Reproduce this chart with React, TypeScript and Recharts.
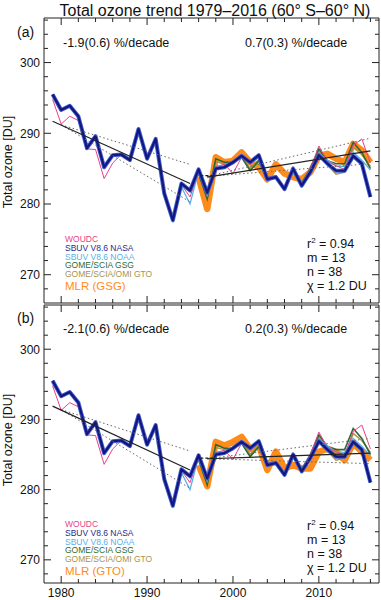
import React from "react";
import { Line, LineChart, XAxis, YAxis } from "recharts";

const FONT = '"Liberation Sans", Arial, Helvetica, sans-serif';

// years of the annual means
const years = [
  1979, 1980, 1981, 1982, 1983, 1984, 1985, 1986, 1987, 1988, 1989, 1990, 1991, 1992, 1993, 1994, 1995, 1996, 1997,
  1998, 1999, 2000, 2001, 2002, 2003, 2004, 2005, 2006, 2007, 2008, 2009, 2010, 2011, 2012, 2013, 2014, 2015, 2016,
];

const woudc = [
  294.8, 291.3, 292.4, 291.8, 287.8, 287.7, 283.6, 285.8, 287.0, 286.4, 290.4, 286.5, 289.0, 281.2, 278.0, 282.7, 281.0,
  284.6, 281.3, 285.3, 285.6, 284.3, 286.6, 285.6, 286.6, 283.8, 284.0, 282.3, 285.2, 282.8, 285.0, 288.2, 286.0, 285.4,
  284.9, 288.3, 289.2, 285.8,
];
const sbuvNasa = [
  295.5, 293.3, 293.9, 292.4, 287.9, 289.6, 285.2, 286.9, 287.0, 286.2, 290.6, 286.4, 289.2, 281.5, 277.7, 282.9, 281.9,
  284.9, 281.6, 285.0, 285.2, 285.9, 286.8, 285.9, 286.9, 283.5, 283.8, 282.1, 285.0, 282.6, 284.5, 286.9, 285.7, 284.7,
  284.7, 286.8, 285.7, 281.0,
];
const sbuvNoaa = [
  295.3, 293.2, 293.8, 292.3, 287.8, 289.5, 285.1, 286.8, 287.0, 286.1, 290.5, 286.4, 289.1, 281.4, 277.6, 282.4, 280.0,
  284.7, 281.2, 285.1, 285.3, 285.7, 286.7, 285.8, 286.8, 283.6, 283.9, 282.2, 285.1, 282.7, 284.7, 287.2, 286.2, 285.4,
  285.3, 287.3, 286.2, 284.8,
];
const gomeGsg = [
  null, null, null, null, null, null, null, null, null, null, null, null, null, null, null, null, null,
  284.3, 280.7, 286.4, 285.9, 285.9, 286.6, 284.7, 286.1, 283.5, 284.0, 282.1, 285.1, 282.9, 285.0, 287.8, 286.1, 285.7,
  285.7, 288.7, 287.3, 285.0,
];
const gomeGto = [
  null, null, null, null, null, null, null, null, null, null, null, null, null, null, null, null, null,
  284.2, 281.0, 286.0, 285.7, 285.8, 286.8, 285.0, 286.3, 283.3, 283.9, 282.0, 285.0, 282.8, 284.8, 287.5, 285.5, 284.2,
  284.5, 288.0, 287.0, 285.3,
];
const mlrGsg = [
  null, null, null, null, null, null, null, null, null, null, null, null, null, null, null, null, null,
  283.8, 279.3, 286.6, 285.9, 286.1, 287.3, 285.9, 285.2, 283.5, 285.6, 284.3, 283.8, 283.5, 284.5, 286.8, 287.1, 286.4,
  285.9, 288.5, 287.6, 285.9,
];
const mlrGto = [
  null, null, null, null, null, null, null, null, null, null, null, null, null, null, null, null, null,
  283.5, 280.5, 286.8, 286.3, 286.8, 287.5, 285.8, 286.3, 282.8, 285.4, 283.0, 283.5, 283.0, 283.0, 285.4, 285.8, 285.4,
  284.2, 286.6, 285.4, 284.2,
];

// fitted trends [year, DU]
const trendA1 = [[1979, 291.7], [1995, 282.9]];
const flatA = [[1996.2, 284.0], [1997.8, 284.0]];
const trendA2 = [[1997, 283.8], [2016, 287.5]];
const upperA1 = [[1980, 291.2], [1995, 285.6]];
const lowerA1 = [[1980, 291.2], [1995, 280.3]];
const upperA2 = [[1997, 283.9], [2016, 289.3]];
const lowerA2 = [[1997, 283.9], [2016, 285.7]];

const trendB1 = [[1979, 291.9], [1995, 282.8]];
const flatB = [[1996.2, 284.5], [1997.8, 284.5]];
const trendB2 = [[1997, 284.4], [2016, 285.2]];
const upperB1 = [[1980, 291.4], [1995, 285.5]];
const lowerB1 = [[1980, 291.4], [1995, 280.2]];
const upperB2 = [[1997, 284.4], [2016, 287.3]];
const lowerB2 = [[1997, 284.4], [2016, 283.7]];

const yearTicks = [1980, 1982, 1984, 1986, 1988, 1990, 1992, 1994, 1996, 1998, 2000, 2002, 2004, 2006, 2008, 2010, 2012, 2014, 2016];
const duTicks = [268, 270, 272, 274, 276, 278, 280, 282, 284, 286, 288, 290, 292, 294, 296, 298, 300, 302, 304, 306];

const legendItems = [
  { label: "WOUDC", color: "#e6428a" },
  { label: "SBUV V8.6 NASA", color: "#2a2a8e" },
  { label: "SBUV V8.6 NOAA", color: "#5ab0e6" },
  { label: "GOME/SCIA GSG", color: "#2f6a32" },
  { label: "GOME/SCIA/OMI GTO", color: "#a8944a" },
];

const seg = (pairs: number[][]) => pairs.map(([year, v]) => ({ year, v }));

function renderTick(props: any, side: string, labels: boolean) {
  const { x, y, payload } = props;
  const v = payload.value;
  const major = Math.abs(v % 10) < 1e-6;
  const len = major ? 7 : 4;
  let x2 = x;
  let y2 = y;
  if (side === "bottom") y2 = y - len;
  if (side === "top") y2 = y + len;
  if (side === "left") x2 = x + len;
  if (side === "right") x2 = x - len;
  return (
    <g>
      <line x1={x} y1={y} x2={x2} y2={y2} stroke="#222" strokeWidth={1} />
      {labels && major && side === "bottom" && (
        <text x={x} y={y + 14} textAnchor="middle" fontSize={12} fontFamily={FONT} fill="#111">
          {v}
        </text>
      )}
      {labels && major && side === "left" && (
        <text x={x - 4} y={y + 4.3} textAnchor="end" fontSize={12} fontFamily={FONT} fill="#111">
          {v}
        </text>
      )}
    </g>
  );
}

function Panel({ height, mTop, mBottom, yDomain, mlr, solid, dotted, yearLabels }: any) {
  const rows = years.map((year, i) => ({
    year,
    woudc: woudc[i],
    nasa: sbuvNasa[i],
    noaa: sbuvNoaa[i],
    gsg: gomeGsg[i],
    gto: gomeGto[i],
    mlr: mlr[i],
  }));
  return (
    <div style={{ position: "absolute", left: 0, top: 0, width: 381, height }}>
      <LineChart width={381} height={height} data={rows} margin={{ top: mTop - 1, right: 1, bottom: mBottom - 1, left: 43 }}>
        <XAxis dataKey="year" type="number" domain={[1978, 2017]} ticks={yearTicks} interval={0} height={1}
          tickSize={0} tickMargin={0} tickLine={false} axisLine={{ stroke: "#222" }} allowDataOverflow
          tick={(p: any) => renderTick(p, "bottom", yearLabels)} />
        <XAxis xAxisId="top" orientation="top" dataKey="year" type="number" domain={[1978, 2017]} ticks={yearTicks}
          interval={0} height={1} tickSize={0} tickMargin={0} tickLine={false} axisLine={{ stroke: "#222" }}
          allowDataOverflow tick={(p: any) => renderTick(p, "top", false)} />
        <YAxis type="number" domain={yDomain} ticks={duTicks} interval={0} width={1} tickSize={0} tickMargin={0}
          tickLine={false} axisLine={{ stroke: "#222" }} allowDataOverflow
          tick={(p: any) => renderTick(p, "left", true)} />
        <YAxis yAxisId="right" orientation="right" type="number" domain={yDomain} ticks={duTicks} interval={0}
          width={1} tickSize={0} tickMargin={0} tickLine={false} axisLine={{ stroke: "#222" }} allowDataOverflow
          tick={(p: any) => renderTick(p, "right", false)} />

        <Line dataKey="mlr" stroke="#ff8c1a" strokeWidth={6.5} dot={false} activeDot={false} isAnimationActive={false} strokeLinejoin="round" />
        <Line dataKey="gto" stroke="#a8944a" strokeWidth={1.5} dot={false} activeDot={false} isAnimationActive={false} />
        <Line dataKey="gsg" stroke="#2f6a32" strokeWidth={1.6} dot={false} activeDot={false} isAnimationActive={false} />
        <Line dataKey="noaa" stroke="#5ab0e6" strokeWidth={1.3} dot={false} activeDot={false} isAnimationActive={false} />
        <Line dataKey="woudc" stroke="#e6428a" strokeWidth={1} dot={false} activeDot={false} isAnimationActive={false} />
        <Line dataKey="nasa" stroke="#3d5fd6" strokeWidth={4} dot={false} activeDot={false} isAnimationActive={false} strokeLinejoin="round" />
        <Line dataKey="nasa" stroke="#15157a" strokeWidth={2.2} dot={false} activeDot={false} isAnimationActive={false} strokeLinejoin="round" />

        {dotted.map((d: number[][], i: number) => (
          <Line key={"d" + i} data={seg(d)} dataKey="v" stroke="#666" strokeWidth={1} strokeDasharray="1.5 2.5"
            dot={false} activeDot={false} isAnimationActive={false} />
        ))}
        {solid.map((d: number[][], i: number) => (
          <Line key={"s" + i} data={seg(d)} dataKey="v" stroke="#222" strokeWidth={1.2}
            strokeDasharray={i === 1 ? "3 2" : undefined}
            dot={false} activeDot={false} isAnimationActive={false} />
        ))}
      </LineChart>
    </div>
  );
}

function Notes({ y0, label, left, right, mlrLabel, legendY, statsY, axisY }: any) {
  const t = { fontFamily: FONT, fill: "#111" };
  return (
    <g>
      <text x={17} y={y0 + 19} fontSize={14} {...t}>{label}</text>
      <text x={63} y={y0 + 28.5} fontSize={12.5} {...t}>{left}</text>
      <text x={245} y={y0 + 28.5} fontSize={12.5} {...t}>{right}</text>
      {legendItems.map((it, i) => (
        <text key={it.label} x={65} y={legendY + i * 8.8} fontSize={8.5} fontFamily={FONT} fill={it.color}>
          {it.label}
        </text>
      ))}
      <text x={65} y={legendY + 4 * 8.8 + 13} fontSize={11.5} fontFamily={FONT} fill="#ff8c1a">{mlrLabel}</text>
      <text x={307} y={statsY} fontSize={12.5} {...t}>
        r<tspan dy={-5} fontSize={8}>2</tspan><tspan dy={5}> = 0.94</tspan>
      </text>
      <text x={307} y={statsY + 14} fontSize={12.5} {...t}>m = 13</text>
      <text x={307} y={statsY + 28} fontSize={12.5} {...t}>n = 38</text>
      <text x={307} y={statsY + 42} fontSize={12.5} {...t}>χ = 1.2 DU</text>
      <text x={11.5} y={axisY} transform={`rotate(-90 11.5 ${axisY})`} textAnchor="middle" fontSize={12.5} {...t}>
        Total ozone [DU]
      </text>
    </g>
  );
}

export default function App() {
  return (
    <div style={{ position: "absolute", left: 0, top: 0, width: 381, height: 600, background: "#fff", overflow: "hidden" }}>
      <Panel height={305} mTop={18} mBottom={2} yDomain={[266, 306.3]} mlr={mlrGsg}
        solid={[trendA1, flatA, trendA2]} dotted={[upperA1, lowerA1, upperA2, lowerA2]} yearLabels={false} />
      <Panel height={600} mTop={305} mBottom={17} yDomain={[266.7, 306.3]} mlr={mlrGto}
        solid={[trendB1, flatB, trendB2]} dotted={[upperB1, lowerB1, upperB2, lowerB2]} yearLabels={true} />
      <svg width={381} height={600} style={{ position: "absolute", left: 0, top: 0, pointerEvents: "none" }}>
        <text x={215} y={16} textAnchor="middle" fontSize={16} fontFamily={FONT} fill="#111">
          Total ozone trend 1979–2016 (60° S–60° N)
        </text>
        <Notes y0={18} label="(a)" left="-1.9(0.6) %/decade" right="0.7(0.3) %/decade" mlrLabel="MLR (GSG)"
          legendY={242} statsY={248} axisY={162} />
        <Notes y0={304} label="(b)" left="-2.1(0.6) %/decade" right="0.2(0.3) %/decade" mlrLabel="MLR (GTO)"
          legendY={527} statsY={530} axisY={440} />
      </svg>
    </div>
  );
}
